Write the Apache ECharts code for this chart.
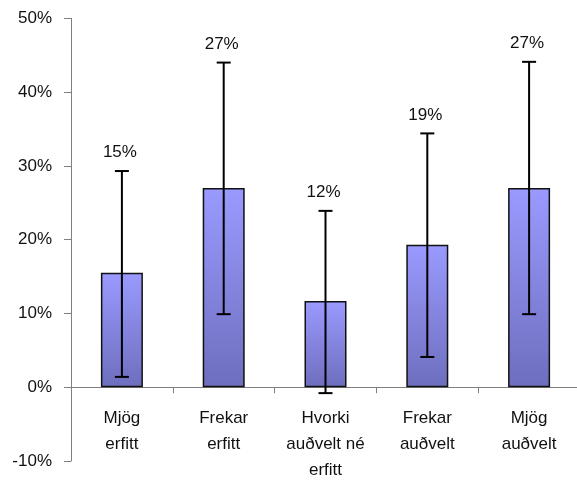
<!DOCTYPE html>
<html>
<head>
<meta charset="utf-8">
<script src="https://cdn.jsdelivr.net/npm/echarts@6/dist/echarts.min.js"></script>
<style>
html,body{margin:0;padding:0;background:#fff;}
#chart{width:577px;height:484px;}
</style>
</head>
<body>
<div id="chart"></div>
<script>
const categories = ['Mjög\nerfitt', 'Frekar\nerfitt', 'Hvorki\nauðvelt né\nerfitt', 'Frekar\nauðvelt', 'Mjög\nauðvelt'];
const values = [15.5, 27.0, 11.7, 19.3, 27.0];
const errLow = [1.4, 9.9, -0.8, 4.1, 9.9];
const errHigh = [29.3, 44.0, 23.9, 34.4, 44.1];
const labels = ['15%', '27%', '12%', '19%', '27%'];

const FONT = 'Liberation Sans, Arial, sans-serif';
const chart = echarts.init(document.getElementById('chart'));
const errData = categories.map((c, i) => [i, errLow[i], errHigh[i], labels[i], c]);

chart.setOption({
  animation: false,
  grid: { left: 71, top: 18.3, width: 509, height: 442.7, containLabel: false, outerBoundsMode: 'none' },
  xAxis: {
    type: 'category',
    data: categories,
    axisLine: { onZero: true, lineStyle: { color: '#7f7f7f', width: 1 } },
    axisTick: { show: true, alignWithLabel: false, inside: false, length: 6, lineStyle: { color: '#7f7f7f' } },
    axisLabel: { show: false }
  },
  yAxis: {
    type: 'value',
    min: -10, max: 50, interval: 10,
    axisLine: { show: true, lineStyle: { color: '#7f7f7f', width: 1 } },
    axisTick: { show: true, length: 7, lineStyle: { color: '#7f7f7f' } },
    splitLine: { show: false },
    axisLabel: { formatter: '{value}%', color: '#111', fontFamily: FONT, fontSize: 17, margin: 19 }
  },
  series: [
    {
      type: 'bar',
      data: values,
      barWidth: 42,
      itemStyle: {
        color: new echarts.graphic.LinearGradient(0, 0, 0, 1, [
          { offset: 0, color: '#9a9aff' },
          { offset: 1, color: '#6e6ebe' }
        ]),
        borderColor: '#111',
        borderWidth: 1.5
      }
    },
    {
      type: 'custom',
      data: errData,
      z: 10,
      clip: false,
      renderItem: function (params, api) {
        const x = api.value(0);
        const lo = api.coord([x, api.value(1)]);
        const hi = api.coord([x, api.value(2)]);
        const base = api.coord([x, 0]);
        const half = 7;
        const style = { stroke: '#000', lineWidth: 2 };
        return {
          type: 'group',
          children: [
            { type: 'line', shape: { x1: hi[0], y1: hi[1], x2: lo[0], y2: lo[1] }, style: style },
            { type: 'line', shape: { x1: hi[0] - half, y1: hi[1], x2: hi[0] + half, y2: hi[1] }, style: style },
            { type: 'line', shape: { x1: lo[0] - half, y1: lo[1], x2: lo[0] + half, y2: lo[1] }, style: style },
            { type: 'text', style: { text: api.value(3), x: hi[0] - 2, y: hi[1] - 10, textAlign: 'center', textVerticalAlign: 'bottom', fill: '#111', font: '17px ' + FONT } },
            { type: 'text', style: { text: categories[x], x: base[0], y: base[1] + 18, textAlign: 'center', textVerticalAlign: 'top', fill: '#111', fontFamily: FONT, fontSize: 17, lineHeight: 26 } }
          ]
        };
      }
    }
  ]
});
</script>
</body>
</html>
